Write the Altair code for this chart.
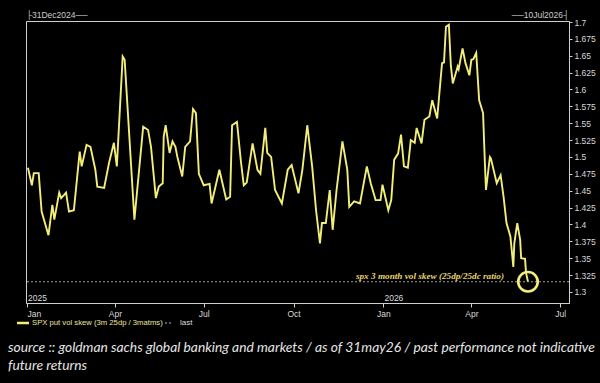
import altair as alt
import pandas as pd

# ---- data -------------------------------------------------------------------
dates = [
    "2025-01-02", "2025-01-06", "2025-01-08", "2025-01-13", "2025-01-16", "2025-01-23", "2025-01-27", "2025-01-29", "2025-02-03", "2025-02-05",
    "2025-02-10", "2025-02-13", "2025-02-18", "2025-02-24", "2025-02-26", "2025-03-03", "2025-03-07", "2025-03-12", "2025-03-14", "2025-03-21",
    "2025-03-26", "2025-03-31", "2025-04-03", "2025-04-09", "2025-04-11", "2025-04-21", "2025-04-30", "2025-05-05", "2025-05-08", "2025-05-13",
    "2025-05-16", "2025-05-20", "2025-05-21", "2025-05-23", "2025-05-27", "2025-05-30", "2025-06-02", "2025-06-04", "2025-06-09", "2025-06-12",
    "2025-06-17", "2025-06-20", "2025-06-23", "2025-06-26", "2025-07-01", "2025-07-07", "2025-07-09", "2025-07-17", "2025-07-24", "2025-07-28",
    "2025-07-30", "2025-08-04", "2025-08-08", "2025-08-11", "2025-08-14", "2025-08-20", "2025-08-25", "2025-08-28", "2025-09-02", "2025-09-04",
    "2025-09-08", "2025-09-12", "2025-09-19", "2025-09-25", "2025-09-29", "2025-10-06", "2025-10-10", "2025-10-15", "2025-10-20", "2025-10-24",
    "2025-10-28", "2025-10-30", "2025-11-03", "2025-11-07", "2025-11-10", "2025-11-14", "2025-11-20", "2025-11-25", "2025-11-27", "2025-12-02",
    "2025-12-08", "2025-12-15", "2025-12-19", "2025-12-24", "2025-12-29", "2025-12-31", "2026-01-06", "2026-01-09", "2026-01-12", "2026-01-16",
    "2026-01-19", "2026-01-22", "2026-01-26", "2026-01-29", "2026-02-02", "2026-02-04", "2026-02-09", "2026-02-12", "2026-02-17", "2026-02-20",
    "2026-02-25", "2026-03-02", "2026-03-04", "2026-03-06", "2026-03-09", "2026-03-11", "2026-03-13", "2026-03-18", "2026-03-19", "2026-03-23",
    "2026-03-26", "2026-03-30", "2026-04-01", "2026-04-03", "2026-04-06", "2026-04-09", "2026-04-13", "2026-04-15", "2026-04-16", "2026-04-20",
    "2026-04-21", "2026-04-27", "2026-05-01", "2026-05-04", "2026-05-07", "2026-05-11", "2026-05-14", "2026-05-15", "2026-05-18", "2026-05-21",
    "2026-05-22", "2026-05-26", "2026-05-27", "2026-05-29",
]
values = [
    1.484, 1.458, 1.476, 1.476, 1.419, 1.384, 1.429, 1.407, 1.447, 1.439,
    1.447, 1.419, 1.421, 1.508, 1.486, 1.518, 1.515, 1.481, 1.456, 1.454,
    1.491, 1.521, 1.486, 1.649, 1.644, 1.407, 1.545, 1.540, 1.515, 1.439,
    1.456, 1.461, 1.530, 1.547, 1.506, 1.523, 1.515, 1.500, 1.471, 1.515,
    1.523, 1.571, 1.565, 1.475, 1.458, 1.460, 1.431, 1.481, 1.437, 1.441,
    1.547, 1.552, 1.494, 1.458, 1.462, 1.520, 1.481, 1.475, 1.543, 1.506,
    1.500, 1.451, 1.431, 1.481, 1.488, 1.446, 1.481, 1.547, 1.486, 1.421,
    1.372, 1.402, 1.402, 1.451, 1.392, 1.451, 1.523, 1.481, 1.426, 1.434,
    1.431, 1.486, 1.461, 1.436, 1.436, 1.459, 1.421, 1.436, 1.496, 1.505,
    1.533, 1.486, 1.484, 1.525, 1.521, 1.543, 1.520, 1.555, 1.560, 1.584,
    1.557, 1.639, 1.640, 1.693, 1.696, 1.636, 1.609, 1.634, 1.630, 1.661,
    1.639, 1.621, 1.644, 1.645, 1.654, 1.584, 1.565, 1.486, 1.451, 1.500,
    1.498, 1.461, 1.473, 1.441, 1.402, 1.382, 1.337, 1.372, 1.402, 1.377,
    1.350, 1.349, 1.328, 1.315,
]
y_ticks = [1.3, 1.325, 1.35, 1.375, 1.4, 1.425, 1.45, 1.475, 1.5, 1.525,
           1.55, 1.575, 1.6, 1.625, 1.65, 1.675, 1.7]
month_ticks = [(2025, 1), (2025, 4), (2025, 7), (2025, 10), (2026, 1), (2026, 4), (2026, 7)]
year_labels = ["2025", "2026"]
year_dates = ["2025-01-01", "2026-01-01"]
series_name = "SPX put vol skew (3m 25dp / 3matms)"
last_name = "last"
annotation = "spx 3 month vol skew (25dp/25dc ratio)"
start_label = "\u251c31Dec2024\u2500\u2500"
end_label = "\u2500\u250010Jul2026\u2524"
source_text = ("source :: goldman sachs global banking and markets / as of 31may26 / past performance not indicative"
               "\nfuture returns")

# ---- styling -----------------------------------------------------------------
YELLOW = "#f3ee78"
GREY = "#cfcfcf"
W, H = 543, 282

df = pd.DataFrame({"date": dates, "value": values})
last = df.iloc[[-1]].reset_index(drop=True)

x_scale = alt.Scale(type="utc",
                    domain=[alt.DateTime(year=2024, month=12, date=31, utc=True),
                            alt.DateTime(year=2026, month=7, date=10, utc=True)])
y_scale = alt.Scale(domain=[1.2835, 1.7015], nice=False, zero=False)

x_axis = alt.Axis(values=[alt.DateTime(year=y, month=m, date=1, utc=True) for y, m in month_ticks],
                  labelExpr="utcFormat(datum.value, '%b')", title=None, grid=False,
                  tickSize=4, labelPadding=2, labelFontSize=8.5, labelOverlap=False)
y_axis = alt.Axis(orient="right", values=y_ticks, format=".4~g", title=None, grid=False,
                  tickSize=3, labelPadding=2, labelFontSize=8.5, labelOverlap=False,
                  labelBound=False)

X = alt.X("date:T", scale=x_scale, axis=x_axis)
Y = alt.Y("value:Q", scale=y_scale, axis=y_axis)

line = alt.Chart(df).mark_line(color=YELLOW, strokeWidth=1.9).encode(x=X, y=Y)

last_rule = alt.Chart(last).mark_rule(color="#a0a0a0", strokeDash=[2, 2], strokeWidth=1).encode(y=Y)

circle = alt.Chart(last).mark_point(shape="circle", size=380, filled=False, color=YELLOW,
                                    strokeWidth=2.6, opacity=1).encode(x=X, y=Y)

annot = alt.Chart(last).mark_text(text=annotation, align="right", baseline="alphabetic", dx=-24, dy=-3,
                                  font="Liberation Serif", fontStyle="italic", fontWeight="bold",
                                  fontSize=9.2, color="#e8d46c").encode(x=X, y=Y)

years = alt.Chart(pd.DataFrame({"date": year_dates, "label": year_labels})).mark_text(
    align="left", baseline="middle", dx=1, font="Liberation Sans", fontSize=8.5, color="#dddddd"
).encode(x=X, y=alt.value(277), text="label:N")

top_left = alt.Chart(pd.DataFrame({"t": [start_label]})).mark_text(
    align="left", baseline="middle", font="Liberation Sans", fontSize=8.5, color="#cccccc"
).encode(x=alt.value(0), y=alt.value(-6), text="t:N")
top_right = alt.Chart(pd.DataFrame({"t": [end_label]})).mark_text(
    align="right", baseline="middle", font="Liberation Sans", fontSize=8.5, color="#cccccc"
).encode(x=alt.value(W), y=alt.value(-6), text="t:N")

leg_line = alt.Chart(pd.DataFrame({"k": [0]})).mark_rule(color=YELLOW, strokeWidth=2.5).encode(
    x=alt.value(-9), x2=alt.value(3), y=alt.value(302))
leg_text = alt.Chart(pd.DataFrame({"t": [series_name]})).mark_text(
    align="left", baseline="middle", font="Liberation Sans", fontSize=7.7, color="#ece69c"
).encode(x=alt.value(6), y=alt.value(302), text="t:N")
leg_dots = alt.Chart(pd.DataFrame({"k": [0]})).mark_rule(color="#bbbbbb", strokeDash=[2, 2], strokeWidth=1).encode(
    x=alt.value(139), x2=alt.value(147), y=alt.value(302))
leg_last = alt.Chart(pd.DataFrame({"t": [last_name]})).mark_text(
    align="left", baseline="middle", font="Liberation Sans", fontSize=8, color="#dddddd"
).encode(x=alt.value(154), y=alt.value(302), text="t:N")

source = alt.Chart(pd.DataFrame({"t": [source_text]})).mark_text(
    align="left", baseline="alphabetic", lineBreak="\n", lineHeight=18, font="Lato",
    fontStyle="italic", fontSize=13.8, color="#e6e6e6"
).encode(x=alt.value(-18), y=alt.value(331), text="t:N")

chart = alt.layer(
    line, last_rule, circle, annot, years, top_left, top_right,
    leg_line, leg_text, leg_dots, leg_last, source
).properties(
    width=W, height=H,
    autosize=alt.AutoSizeParams(type="none"),
    padding={"left": 26, "top": 21, "right": 31, "bottom": 80},
    background="#000000",
).configure_view(
    stroke=GREY, strokeWidth=1, fill="#000000"
).configure_axis(
    domainColor=GREY, tickColor=GREY, labelColor="#d8d8d8", labelFont="Liberation Sans"
)

chart.save("out.html", embed_options={"renderer": "svg", "actions": False})
